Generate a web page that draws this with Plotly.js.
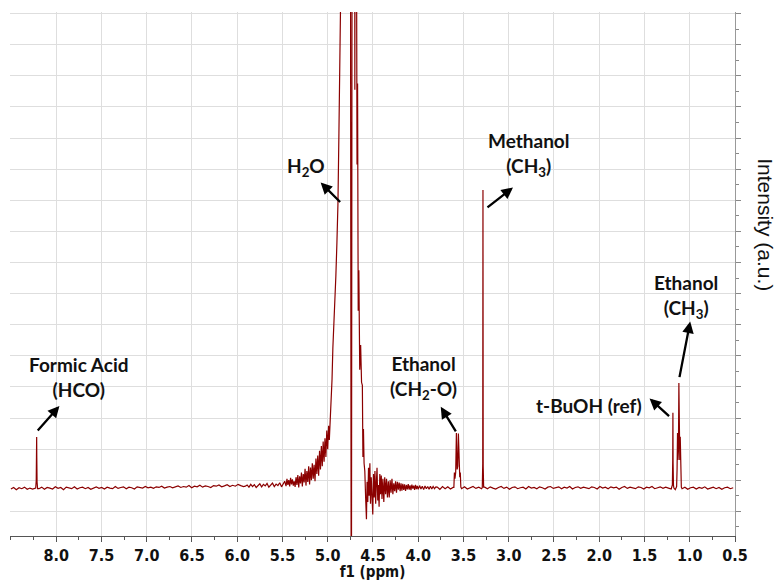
<!DOCTYPE html>
<html><head><meta charset="utf-8">
<script src="https://cdn.plot.ly/plotly-3.0.1.min.js"></script>
<style>html,body{margin:0;padding:0;background:#fff}#chart{width:778px;height:581px}</style>
</head><body><div id="chart"></div>
<script>
// ---------- DATA ----------
const tickValues = [8.0,7.5,7.0,6.5,6.0,5.5,5.0,4.5,4.0,3.5,3.0,2.5,2.0,1.5,1.0,0.5];
const tickLabels = ['8.0','7.5','7.0','6.5','6.0','5.5','5.0','4.5','4.0','3.5','3.0','2.5','2.0','1.5','1.0','0.5'];

// baseline segments: [from ppm, to ppm], intensities evenly spaced across the segment
const baseA_range = [8.50, 8.23];
const baseA = [-0.03,0.02,-0.05,0.01,-0.02,0.03,-0.04,0.00,-0.03,0.02];
const baseB_range = [8.19, 5.93];
const baseB = [-0.02,0.03,-0.04,0.02,0.00,-0.03,0.04,-0.01,0.02,-0.05,0.03,0.00,-0.02,0.04,-0.03,0.01,0.03,-0.02,0.02,-0.04,
  0.01,0.04,-0.01,0.02,-0.03,0.03,0.00,-0.02,0.05,-0.01,0.02,0.04,-0.02,0.03,0.01,-0.03,0.04,0.02,0.00,0.05,
  0.01,0.03,-0.01,0.04,0.02,0.06,0.00,0.03,0.05,0.01,0.04,0.07,0.02,0.05,0.03,0.08,0.01,0.06,0.04,0.09,
  0.03,0.07,0.05,0.02,0.08,0.06,0.10,0.04,0.07,0.11,0.05,0.09,0.06,0.12,0.08,0.05];
const baseC_range = [3.79, 3.615];
const baseC = [0.03,-0.04,0.05,-0.02,0.04,-0.03,0.02];
const baseD_range = [3.52, 3.30];
const baseD = [-0.02,0.04,-0.03,0.02,0.05,-0.01,0.03,-0.02];
const baseE_range = [3.265, 1.205];
const baseE = [0.03,-0.02,0.04,0.00,-0.03,0.02,0.05,-0.01,0.03,-0.04,0.02,0.04,-0.02,0.01,0.03,-0.03,0.05,0.00,0.02,-0.02,
  0.04,0.01,-0.03,0.03,0.05,-0.01,0.02,0.04,-0.02,0.03,0.00,0.05,-0.03,0.02,0.04,-0.01,0.03,0.01,-0.02,0.04,
  0.02,-0.03,0.05,0.00,0.03,-0.02,0.04,0.01,0.03,-0.04,0.02,0.05,-0.01,0.03,0.00,-0.02,0.04,0.02,-0.03,0.03,
  0.01,0.05,-0.02,0.02,0.04,-0.01,0.03,0.00,-0.03];
const baseF_range = [1.085, 0.52];
const baseF = [-0.02,0.03,-0.04,0.01,0.03,-0.03,0.02,-0.01,0.04,-0.03,0.00,0.03,-0.02,0.02,-0.04,0.01,0.03,-0.02,0.01];

// peaks (ppm, intensity)
const formicPpm = [8.226,8.220,8.217,8.2155,8.214,8.211,8.205];
const formicInt = [0.00,0.25,1.10,1.64,1.00,0.20,-0.02];

const waterPpm = [5.91,5.89,5.87,5.85,5.83,5.81,5.79,5.77,5.75,5.73,5.71,5.69,5.67,5.65,5.63,5.61,5.59,5.57,5.55,5.53,5.51,5.49,
  5.475,5.46,5.45,5.44,5.43,5.42,5.41,5.40,5.39,5.38,5.37,5.36,5.35,5.34,5.33,5.32,5.31,5.30,5.29,5.28,5.27,5.26,5.25,5.24,5.23,5.22,
  5.21,5.20,5.19,5.18,5.17,5.16,5.15,5.14,5.13,5.12,5.11,5.10,5.09,5.08,5.07,5.06,5.05,5.04,5.03,5.02,5.01,5.00,4.99,
  4.982,4.976,4.968,4.96,4.952,4.943,4.935,4.927,4.918,4.910,4.898,4.887,4.876,4.865,4.855,4.840,4.820,4.800,4.780,4.760,
  4.752,4.745,4.741,4.737,4.732,4.726,4.715,4.705,4.700,4.695,4.685,4.676,4.670,4.663,4.656,4.646,4.636,4.626,4.617,4.611,
  4.605,4.598,4.590,4.581,4.572,4.565,4.557,4.549,4.542,4.534,4.527,4.519,4.511,4.502,4.494,4.486,4.478,4.470,4.462,4.455,
  4.447,4.440,4.432,4.424,4.416,4.408,4.400,4.390,4.380,4.370,4.360,4.350,4.340,4.330,4.320,4.310,4.300,4.290,4.280,4.270,
  4.260,4.250,4.240,4.230,4.220,4.210,4.200,4.190,4.180,4.170,4.160,4.150,4.140,4.130,4.120,4.110,4.100,4.090,4.080,4.070,
  4.060,4.050,4.040,4.030,4.020,4.010,4.000,3.985,3.970,3.955,3.940,3.925,3.910,3.895,3.880,3.865,3.850,3.835,3.820,3.805];
const waterInt = [0.06,0.10,0.03,0.12,0.05,0.11,0.02,0.09,0.14,0.04,0.12,0.07,0.15,0.03,0.10,0.16,0.05,0.13,0.08,0.17,0.04,0.14,
  0.22,0.06,0.30,0.10,0.26,0.05,0.33,0.12,0.28,0.08,0.22,0.04,0.35,0.10,0.42,0.02,0.38,0.15,0.50,0.05,0.45,0.18,0.62,0.08,0.55,0.20,
  0.70,0.12,0.66,0.25,0.80,0.30,0.75,0.22,0.95,0.45,1.05,0.40,1.20,0.60,1.35,0.70,1.50,0.85,1.60,1.00,1.85,1.25,2.00,
  1.55,1.90,2.40,2.90,3.50,4.50,5.00,5.60,6.10,6.80,7.90,9.10,11.4,15.2,19.5,24,28,32,36,38,
  30,8,-3,-2,14,40,45,30,12.8,26,22,10.4,13,5.7,7.0,3.8,4.6,3.4,3.3,1.0,
  1.9,0.8,0.55,-0.3,-1.0,0.2,-0.45,0.65,-0.25,0.8,-0.5,0.35,-0.6,-0.85,0.45,-0.3,0.55,-0.5,0.2,0.65,
  -0.4,0.1,-0.6,0.45,-0.2,0.4,-0.35,0.3,-0.45,0.35,-0.2,0.3,-0.3,0.22,-0.3,0.25,-0.15,0.3,-0.2,0.15,
  -0.1,0.22,-0.15,0.2,-0.05,0.18,-0.1,0.15,-0.08,0.14,-0.06,0.12,-0.09,0.1,-0.04,0.13,-0.05,0.09,-0.07,0.11,
  -0.02,0.08,-0.06,0.1,-0.03,0.07,-0.04,0.08,-0.03,0.06,-0.05,0.07,-0.02,0.05,-0.04,0.06,-0.03,0.05,-0.02,0.04];

const ethCH2Ppm = [3.606,3.600,3.594,3.586,3.578,3.570,3.563,3.556,3.549,3.541,3.535,3.529];
const ethCH2Int = [0.02,0.50,0.30,0.50,1.77,0.60,0.70,1.75,0.50,0.35,0.50,0.03];

const methPpm = [3.292,3.287,3.2845,3.282,3.277];
const methInt = [0.02,0.80,9.58,0.70,0.03];

const tbuEthPpm = [1.200,1.192,1.188,1.186,1.184,1.180,1.175,1.160,1.145,1.140,1.135,1.130,1.125,1.120,1.115,1.110,1.105,1.100,1.093];
const tbuEthInt = [0.02,0.10,0.90,2.42,0.80,0.10,0.00,-0.05,0.05,0.60,1.77,0.90,1.20,3.38,1.10,0.90,1.65,0.50,0.03];

// annotation labels
const labelTexts = ['Formic Acid<br>(HCO)','H<sub>2</sub>O','Methanol<br>(CH<sub>3</sub>)','Ethanol<br>(CH<sub>2</sub>-O)','t-BuOH (ref)','Ethanol<br>(CH<sub>3</sub>)'];
const labelPpm = [7.757,5.241,2.779,3.938,2.115,1.046];
const labelInt = [3.57,10.32,10.71,3.55,2.67,6.17];
const arrowPpm = [7.964,5.078,2.953,3.751,1.444,0.995];
const arrowInt = [2.64,9.82,9.66,2.61,2.88,5.35];
const arrowAx = [-23,21,-27,16,21,-11];
const arrowAy = [26,21,21,26,19,57];

// ---------- BUILD ----------
const pts = [];
function addBase(r, vals){ const n = vals.length; for(let i=0;i<n;i++) pts.push([r[0]+(r[1]-r[0])*i/(n-1), vals[i]]); }
function addPeak(p, v){ for(let i=0;i<p.length;i++) pts.push([p[i], v[i]]); }
addBase(baseA_range, baseA); addPeak(formicPpm, formicInt);
addBase(baseB_range, baseB); addPeak(waterPpm, waterInt);
addBase(baseC_range, baseC); addPeak(ethCH2Ppm, ethCH2Int);
addBase(baseD_range, baseD); addPeak(methPpm, methInt);
addBase(baseE_range, baseE); addPeak(tbuEthPpm, tbuEthInt);
addBase(baseF_range, baseF);
pts.sort((a,b)=>b[0]-a[0]);

const trace = {
  x: pts.map(p=>p[0]), y: pts.map(p=>p[1]),
  type:'scatter', mode:'lines',
  line:{color:'#8B0000', width:1.2},
  hoverinfo:'skip'
};

const annFont = {family:'Lato, "Open Sans", sans-serif', size:19, color:'#111', weight:700};
const annotations = [];
for (let i=0;i<labelTexts.length;i++){
  annotations.push({x:labelPpm[i], y:labelInt[i], xref:'x', yref:'y', text:labelTexts[i], showarrow:false, font:annFont, align:'center'});
  annotations.push({x:arrowPpm[i], y:arrowInt[i], xref:'x', yref:'y', text:'', showarrow:true,
    ax:arrowAx[i], ay:arrowAy[i], arrowhead:2, arrowsize:1, arrowwidth:2.3, arrowcolor:'#000', standoff:0, startstandoff:0});
}
annotations.push({xref:'paper', yref:'paper', x:1.0, y:0.594, xanchor:'left', yanchor:'middle', xshift:17,
  text:'Intensity (a.u.)', textangle:90, showarrow:false,
  font:{family:'"Liberation Sans", Arial, sans-serif', size:21, color:'#111'}});

const tickFont = {family:'"DejaVu Sans Condensed", "Liberation Sans Narrow", "Liberation Sans", sans-serif', size:16, color:'#111', weight:700};
const titleFont = {family:'"DejaVu Sans Condensed", "Liberation Sans Narrow", "Liberation Sans", sans-serif', size:15, color:'#111', weight:700};

const layout = {
  width:778, height:581,
  margin:{l:10, r:43, t:12, b:45},
  paper_bgcolor:'#fff', plot_bgcolor:'#fff',
  showlegend:false,
  xaxis:{
    range:[8.51, 0.5], tickvals:tickValues, ticktext:tickLabels,
    ticks:'outside', ticklen:5, tickcolor:'#555', tickwidth:1,
    showline:true, linecolor:'#555', linewidth:1,
    showgrid:true, gridcolor:'#dedede', gridwidth:1, zeroline:false,
    tickfont:tickFont,
    minor:{dtick:0.25, tick0:0.5, ticks:'outside', ticklen:3, tickcolor:'#555', showgrid:false},
    title:{text:'f1 (ppm)', font:titleFont, standoff:5},
    automargin:false
  },
  yaxis:{
    range:[-1.54, 15.3], side:'right', showticklabels:false,
    tick0:0.25, dtick:1, ticks:'outside', ticklen:5, tickcolor:'#888',
    showline:true, linecolor:'#999', linewidth:1,
    showgrid:true, gridcolor:'#dedede', gridwidth:1, zeroline:false,
    minor:{dtick:0.5, tick0:0.25, ticks:'outside', ticklen:3, tickcolor:'#888', showgrid:false},
    automargin:false
  },
  annotations:annotations
};

Plotly.newPlot('chart', [trace], layout, {staticPlot:true, displayModeBar:false});
</script>
</body></html>
